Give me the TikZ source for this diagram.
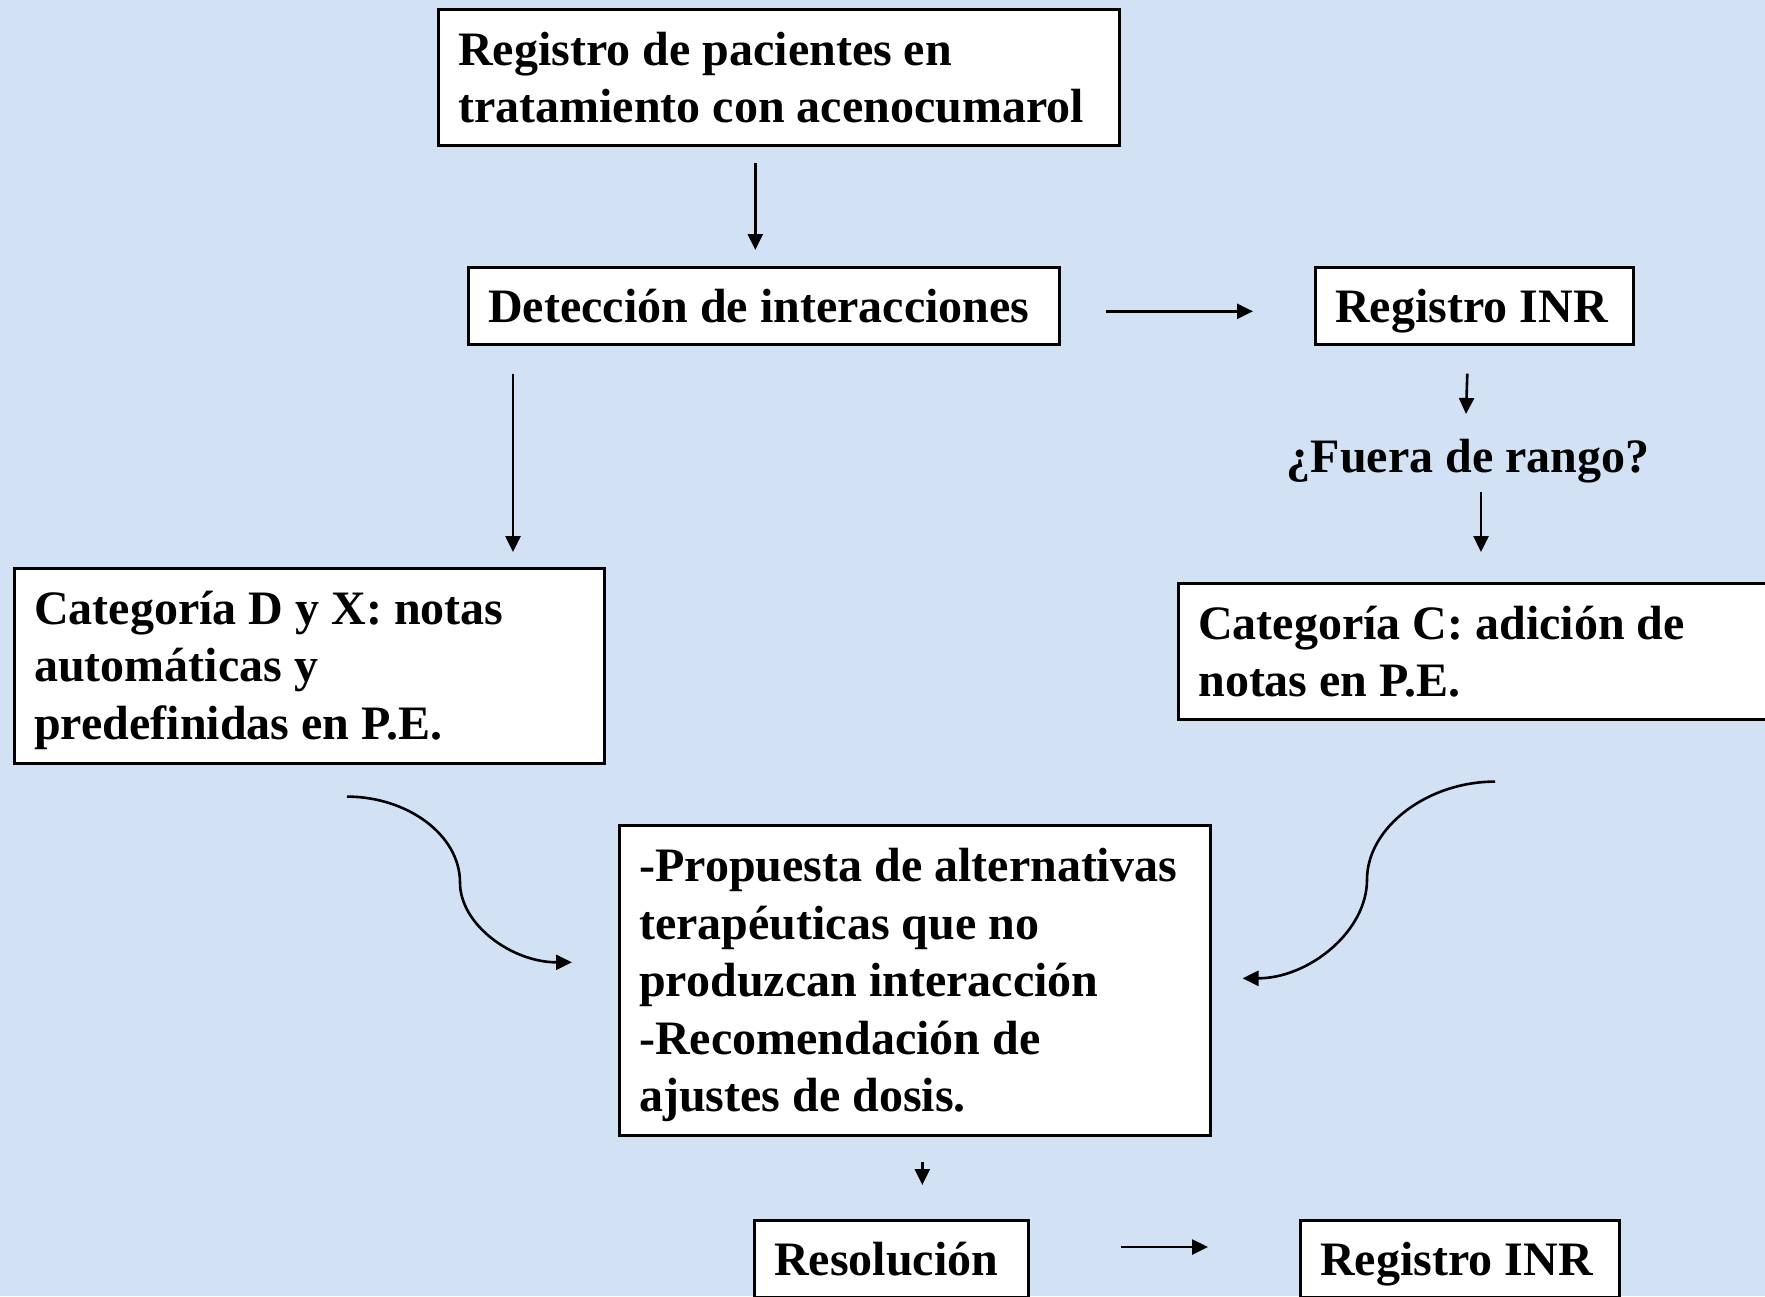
\documentclass[tikz,border=0pt]{standalone}
\usepackage{fontspec}
\setmainfont{Liberation Serif}
\usepackage{tikz}
\usetikzlibrary{arrows.meta}
\definecolor{bgblue}{RGB}{210,225,244}

\begin{document}
\begin{tikzpicture}[x=0.5pt, y=-0.5pt,
  box/.style={draw, line width=1.3pt, fill=white, anchor=north west, align=flush left,
    inner xsep=10pt, inner ysep=0pt, text height=17pt, font=\fontsize{24}{28.8}\selectfont\bfseries},
  single/.style={box, text depth=0pt, minimum height=38.5pt},
  arr/.style={-{Triangle[length=8pt,width=7.5pt]}, line width=1.3pt}]

% background
\fill[bgblue] (0,0) rectangle (1765,1296);
\useasboundingbox (0,0) rectangle (1765,1296);

% boxes
\node[box, text width=320.5pt, minimum height=68pt] (reg) at (437,8) {Registro de pacientes en\\tratamiento con acenocumarol};
\node[single, text width=275.5pt] (det) at (467,266) {Detección de interacciones};
\node[single, text width=139pt] (inr1) at (1314,266) {Registro INR};
\node[font=\fontsize{24}{28.8}\selectfont\bfseries, inner sep=0pt] (fuera) at (1468,461) {¿Fuera de rango?};
\node[box, text width=275pt, minimum height=97.5pt, text height=21pt] (catD) at (13,567) {Categoría D y X: notas\\automáticas y\\predefinidas en P.E.};
\node[box, text width=300pt, minimum height=68pt] (catC) at (1177,582) {Categoría C: adición de\\notas en P.E.};
\node[box, text width=275.5pt, minimum height=155pt, text height=21.5pt] (prop) at (618,824) {-Propuesta de alternativas\\terapéuticas que no\\produzcan interacción\\-Recomendación de\\ajustes de dosis.};
\node[single, text width=117pt] (res) at (753,1219) {Resolución};
\node[single, text width=139.5pt] (inr2) at (1299,1219) {Registro INR};

% straight arrows
\draw[arr] ([xshift=-11.75pt,yshift=-8pt]reg.south) -- ([xshift=-4.25pt,yshift=8pt]det.north);
\draw[arr] ([xshift=22.5pt,yshift=-2.75pt]det.east) -- ([xshift=-30.5pt,yshift=-2.75pt]inr1.west);
\draw[arr] ([xshift=23pt,yshift=-14pt]det.south west) -- ([xshift=250pt,yshift=7.5pt]catD.north west);
\draw[arr] ([xshift=-3.5pt,yshift=-14pt]inr1.south) -- ([xshift=-1pt,yshift=23.5pt]fuera.center);
\draw[arr] ([xshift=6.5pt,yshift=-15.5pt]fuera.center) -- ([xshift=152pt,yshift=15pt]catC.north west);
\draw[arr] ([xshift=3.75pt,yshift=-12.5pt]prop.south) -- ([xshift=15.5pt,yshift=17pt]res.north);
\draw[arr] ([xshift=45.5pt,yshift=-14pt]res.north east) -- ([xshift=-45.5pt,yshift=-14pt]inr2.north west);

% curved arrows into the central box
\draw[arr] ([xshift=167pt,yshift=-16pt]catD.south west)
  .. controls +(30pt,0) and +(0,24pt) .. ++(56.5pt,-43pt)
  .. controls +(0,-21pt) and +(-30pt,0) .. ([xshift=-23pt,yshift=9pt]prop.west);
\draw[arr] ([xshift=159pt,yshift=-30.5pt]catC.south west)
  .. controls +(-34pt,0) and +(0,26pt) .. ++(-64pt,-49pt)
  .. controls +(0,-26pt) and +(33pt,0) .. ([xshift=15.5pt,yshift=1pt]prop.east);
\end{tikzpicture}
\end{document}
